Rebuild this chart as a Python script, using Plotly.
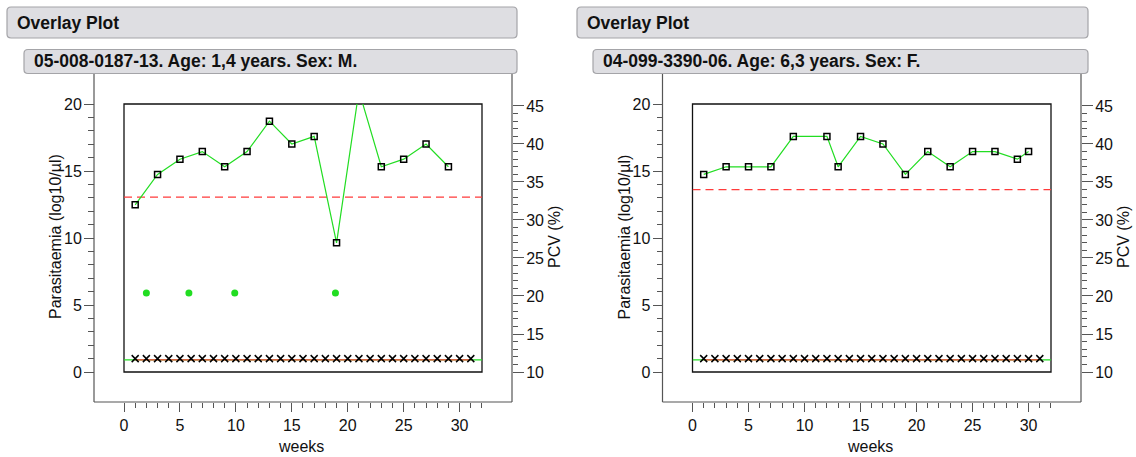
import plotly.graph_objects as go

W, H = 1136, 457

# ---------------- data ----------------
header_title = "Overlay Plot"
subtitle_A = "05-008-0187-13. Age: 1,4 years. Sex: M."
subtitle_B = "04-099-3390-06. Age: 6,3 years. Sex: F."

weeks_pcv_A = [1, 3, 5, 7, 9, 11, 13, 15, 17, 19, 21, 23, 25, 27, 29]
pcv_A = [32, 36, 38, 39, 37, 39, 43, 40, 41, 27, 47, 37, 38, 40, 37]
weeks_par_A = [2.0, 5.8, 9.9, 18.9]
par_A = [5.9, 5.9, 5.9, 5.9]
pcv_threshold_A = 33

weeks_pcv_B = [1, 3, 5, 7, 9, 12, 13, 15, 17, 19, 21, 23, 25, 27, 29, 30]
pcv_B = [36, 37, 37, 37, 41, 41, 37, 41, 40, 36, 39, 37, 39, 39, 38, 39]
pcv_threshold_B = 34

weeks_visits = list(range(1, 32))
visit_level = [1] * 31
baseline_level = 0.9

x_range = [0, 32.001]
par_range = [0, 20]
pcv_range = [10, 45.26]

# ---------------- helpers ----------------
def px(x):
    return x / W

def py(y):
    return 1 - y / H

def rounded_rect(x0, y0, x1, y1, r):
    rx, ry = r / W, r / H
    X0, X1 = px(x0), px(x1)
    Y0, Y1 = py(y0), py(y1)  # Y0 top (bigger), Y1 bottom
    return (f"M {X0+rx},{Y0} L {X1-rx},{Y0} Q {X1},{Y0} {X1},{Y0-ry} "
            f"L {X1},{Y1+ry} Q {X1},{Y1} {X1-rx},{Y1} L {X0+rx},{Y1} "
            f"Q {X0},{Y1} {X0},{Y1+ry} L {X0},{Y0-ry} Q {X0},{Y0} {X0+rx},{Y0} Z")

FONT = "Liberation Sans, Arial, sans-serif"
GREEN = "#22dd22"
RED = "#ff3b3b"
AX = "#555555"

fig = go.Figure()

panels = [
    dict(xa="x", ya="y", ya2="y2", left=124, right=482, axl=94, axr=512,
         hx0=7, hx1=517, ix0=24, tx=15, itx=32,
         weeks=weeks_pcv_A, pcv=pcv_A, thr=pcv_threshold_A,
         pw=weeks_par_A, pv=par_A, sub=subtitle_A),
    dict(xa="x2", ya="y3", ya2="y4", left=692.5, right=1051, axl=662.5, axr=1081,
         hx0=577, hx1=1088, ix0=593, tx=585, itx=601,
         weeks=weeks_pcv_B, pcv=pcv_B, thr=pcv_threshold_B,
         pw=[], pv=[], sub=subtitle_B),
]

TOP, BOT, AXTOP, AXBOT = 104, 372, 74, 402

shapes = []
annotations = []
layout_axes = {}

for i, p in enumerate(panels):
    xa, ya, ya2 = p["xa"], p["ya"], p["ya2"]
    fig.add_trace(go.Scatter(x=[x_range[0], x_range[1]], y=[baseline_level]*2, mode="lines",
                             line=dict(color=GREEN, width=1.2), xaxis=xa, yaxis=ya,
                             showlegend=False, hoverinfo="skip"))
    fig.add_trace(go.Scatter(x=[weeks_visits[0], weeks_visits[-1]], y=[baseline_level]*2,
                             mode="lines", line=dict(color=RED, width=1.2),
                             xaxis=xa, yaxis=ya, showlegend=False, hoverinfo="skip"))
    fig.add_trace(go.Scatter(x=weeks_visits, y=visit_level, mode="markers",
                             marker=dict(symbol="x-thin-open", size=7, color="black",
                                         line=dict(width=1.5, color="black")),
                             xaxis=xa, yaxis=ya, showlegend=False))
    if p["pw"]:
        fig.add_trace(go.Scatter(x=p["pw"], y=p["pv"], mode="markers",
                                 marker=dict(symbol="circle", size=7, color=GREEN),
                                 xaxis=xa, yaxis=ya, showlegend=False))
    fig.add_trace(go.Scatter(x=[x_range[0], x_range[1]], y=[p["thr"]]*2, mode="lines",
                             line=dict(color=RED, width=1.2, dash="8px,5px"),
                             xaxis=xa, yaxis=ya2, showlegend=False, hoverinfo="skip"))
    fig.add_trace(go.Scatter(x=p["weeks"], y=p["pcv"], mode="lines+markers",
                             line=dict(color=GREEN, width=1.2),
                             marker=dict(symbol="square-open", size=6, color="black",
                                         line=dict(width=1.5, color="black")),
                             xaxis=xa, yaxis=ya2, showlegend=False))

    tickfont = dict(family=FONT, size=16, color="#111111")
    xkey = "xaxis" if xa == "x" else "xaxis" + xa[1:]
    ykey = "yaxis" if ya == "y" else "yaxis" + ya[1:]
    y2key = "yaxis" + ya2[1:]
    layout_axes[xkey] = dict(domain=[px(p["left"]), px(p["right"])], range=x_range,
                             anchor="free", position=py(AXBOT), showline=False,
                             showgrid=False, zeroline=False, ticks="outside", ticklen=9,
                             tickcolor=AX, tickwidth=1, dtick=5, tick0=0,
                             tickfont=tickfont, automargin=False,
                             minor=dict(dtick=1, tick0=0, ticks="outside", ticklen=5,
                                        tickcolor=AX, tickwidth=1, showgrid=False))
    layout_axes[ykey] = dict(domain=[py(BOT), py(TOP)], range=par_range, anchor="free",
                             position=px(p["axl"]), side="left", showline=False,
                             showgrid=False, zeroline=False, ticks="outside", ticklen=10,
                             tickcolor=AX, tickwidth=1, dtick=5, tick0=0,
                             tickfont=tickfont, ticklabelstandoff=-1, automargin=False,
                             minor=dict(dtick=1, tick0=0, ticks="outside", ticklen=6,
                                        tickcolor=AX, tickwidth=1, showgrid=False))
    layout_axes[y2key] = dict(domain=[py(BOT), py(TOP)], range=pcv_range, anchor="free",
                              overlaying=ya, position=px(p["axr"]), side="right",
                              showline=False, showgrid=False, zeroline=False,
                              ticks="outside", ticklen=11, tickcolor=AX, tickwidth=1,
                              dtick=5, tick0=10, tickfont=tickfont, ticklabelstandoff=-1,
                              automargin=False,
                              minor=dict(dtick=1, tick0=10, ticks="outside", ticklen=5,
                                         tickcolor=AX, tickwidth=1, showgrid=False))

    shapes.append(dict(type="path", xref="paper", yref="paper",
                       path=rounded_rect(p["hx0"], 7, p["hx1"], 38, 4),
                       fillcolor="#dedee2", line=dict(color="#a4a4a8", width=1.2)))
    shapes.append(dict(type="path", xref="paper", yref="paper",
                       path=rounded_rect(p["ix0"], 49.5, p["hx1"], 73.5, 4),
                       fillcolor="#dedee2", line=dict(color="#a4a4a8", width=1.2)))
    annotations.append(dict(text=f"<b>{header_title}</b>", x=px(p["tx"]), y=py(22.5),
                            xref="paper", yref="paper", xanchor="left", yanchor="middle",
                            showarrow=False, font=dict(family=FONT, size=17.5, color="#111")))
    annotations.append(dict(text=f"<b>{p['sub']}</b>", x=px(p["itx"]), y=py(61.5),
                            xref="paper", yref="paper", xanchor="left", yanchor="middle",
                            showarrow=False, font=dict(family=FONT, size=17.5, color="#111")))
    for (x0, y0, x1, y1) in [(p["axl"], AXTOP, p["axl"], AXBOT),
                             (p["axl"], AXBOT, p["axr"], AXBOT),
                             (p["axr"], AXTOP, p["axr"], AXBOT)]:
        shapes.append(dict(type="line", xref="paper", yref="paper",
                           x0=px(x0), y0=py(y0), x1=px(x1), y1=py(y1),
                           line=dict(color=AX, width=1.2)))
    shapes.append(dict(type="rect", xref="paper", yref="paper",
                       x0=px(p["left"]), y0=py(BOT), x1=px(p["right"]), y1=py(TOP),
                       line=dict(color="#111111", width=1.3), layer="below"))
    annotations.append(dict(text="Parasitaemia (log10/µl)", x=px(p["axl"] - 39), y=py(237),
                            xref="paper", yref="paper", textangle=-90, showarrow=False,
                            xanchor="center", yanchor="middle",
                            font=dict(family=FONT, size=16, color="#111")))
    annotations.append(dict(text="PCV (%)", x=px(p["axr"] + 42), y=py(237),
                            xref="paper", yref="paper", textangle=-90, showarrow=False,
                            xanchor="center", yanchor="middle",
                            font=dict(family=FONT, size=16, color="#111")))
    annotations.append(dict(text="weeks", x=px((p["left"] + p["right"]) / 2 - 2),
                            y=py(446), xref="paper", yref="paper", showarrow=False,
                            xanchor="center", yanchor="middle",
                            font=dict(family=FONT, size=16, color="#111")))

fig.update_layout(width=W, height=H,
                  margin=dict(l=0, r=0, t=0, b=0, pad=0, autoexpand=False),
                  paper_bgcolor="white", plot_bgcolor="white",
                  shapes=shapes, annotations=annotations, showlegend=False,
                  **layout_axes)

fig.write_html("out.html")
